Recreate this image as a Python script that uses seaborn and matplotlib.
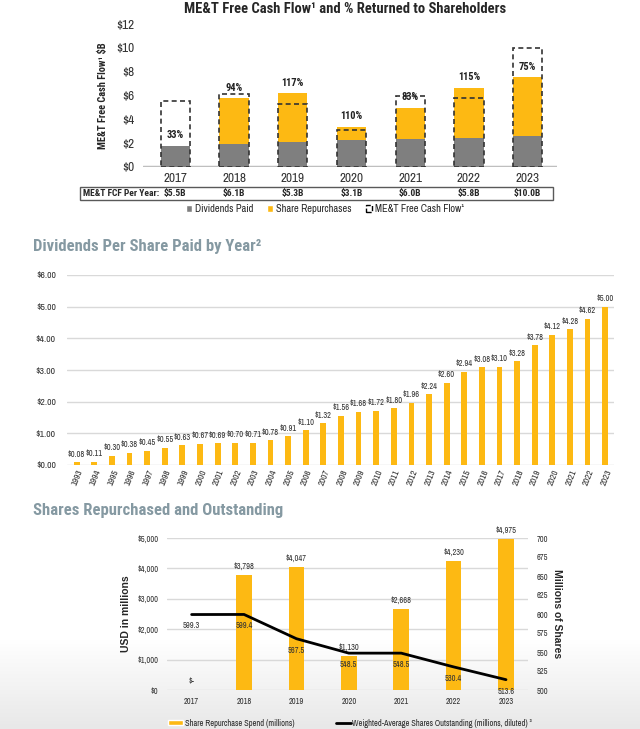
import numpy as np
import pandas as pd
import matplotlib
matplotlib.use("Agg")
import matplotlib.pyplot as plt
import matplotlib.transforms as mtrans
from matplotlib.patches import Patch, Rectangle
from matplotlib.lines import Line2D
import seaborn as sns

# ---------------- data ----------------
fcf_years = ["2017", "2018", "2019", "2020", "2021", "2022", "2023"]
dividends_paid_b = [1.80, 1.95, 2.13, 2.24, 2.31, 2.44, 2.56]
share_repurchases_b = [0.0, 3.80, 4.05, 1.13, 2.67, 4.23, 4.975]
fcf_b = [5.5, 6.1, 5.3, 3.1, 6.0, 5.8, 10.0]
pct_returned = ["33%", "94%", "117%", "110%", "83%", "115%", "75%"]

dps_years = [str(y) for y in range(1993, 2024)]
dps_values = [0.08, 0.11, 0.30, 0.38, 0.45, 0.55, 0.63, 0.67, 0.69, 0.70, 0.71,
              0.78, 0.91, 1.10, 1.32, 1.56, 1.68, 1.72, 1.80, 1.96, 2.24, 2.60,
              2.94, 3.08, 3.10, 3.28, 3.78, 4.12, 4.28, 4.62, 5.00]

rep_years = ["2017", "2018", "2019", "2020", "2021", "2022", "2023"]
repurchase_spend_m = [0, 3798, 4047, 1130, 2668, 4230, 4975]
shares_outstanding_m = [599.3, 599.4, 567.5, 548.5, 548.5, 530.4, 513.6]

# ---------------- style ----------------
YELLOW = "#FDB913"
GREY = "#7F7F7F"
TITLE2 = "#8599A2"
sns.set_style("white")
FONT = ["Archivo Narrow", "PT Sans Narrow", "DejaVu Sans"]
BFONT = ["Roboto Condensed", "PT Sans Narrow", "DejaVu Sans"]
AFONT = ["Liberation Sans", "DejaVu Sans"]
plt.rcParams["font.family"] = FONT
plt.rcParams["axes.facecolor"] = "none"

W, H = 640, 729
fig = plt.figure(figsize=(6.4, 7.29), dpi=100)

def fx(px):
    return px / W

def fy(py):
    return 1 - py / H

# background gradient at bottom
bg = fig.add_axes([0, 0, 1, fy(640)], zorder=-10)
grad = np.linspace(0, 1, 100).reshape(-1, 1)
bg.imshow(grad, aspect="auto", cmap=matplotlib.colors.LinearSegmentedColormap.from_list(
    "g", ["#e8e8e8", "#ffffff"]), origin="lower", extent=[0, 1, 0, 1])
bg.axis("off")

# ================= Panel 1 =================
ax1 = fig.add_axes([fx(143), fy(167), fx(557) - fx(143), fy(24) - fy(167)])
totals = [d + r for d, r in zip(dividends_paid_b, share_repurchases_b)]
df1 = pd.DataFrame({"year": fcf_years, "total": totals,
                    "div": dividends_paid_b, "fcf": fcf_b})
sns.barplot(data=df1, x="year", y="total", color=YELLOW, width=0.5,
            errorbar=None, ax=ax1, saturation=1, linewidth=0)
sns.barplot(data=df1, x="year", y="div", color=GREY, width=0.5,
            errorbar=None, ax=ax1, saturation=1, linewidth=0)
sns.barplot(data=df1, x="year", y="fcf", color="#333333", fill=False, width=0.5,
            errorbar=None, ax=ax1, linewidth=1.2, linestyle=(0, (3, 2)))
for i, (t, p) in enumerate(zip(totals, pct_returned)):
    ax1.annotate(p, (i, t), xytext=(0, 4), textcoords="offset points",
                 ha="center", va="bottom", fontsize=7.5, fontweight="bold",
                 color="#222222", family=BFONT)
ax1.set_ylim(0, 12)
ax1.set_xlim(-0.55, 6.5)
ax1.set_yticks(range(0, 13, 2))
ax1.set_yticklabels([f"${v}" for v in range(0, 13, 2)], fontsize=9.5, color="#333333")
ax1.tick_params(axis="x", labelsize=9.5, colors="#333333", length=0, pad=4)
ax1.tick_params(axis="y", length=0, pad=6)
ax1.set_xlabel("")
ax1.set_ylabel("ME&T Free Cash Flow¹ $B", fontsize=7.5, fontweight="bold", labelpad=6,
               family=BFONT)
for s in ax1.spines.values():
    s.set_visible(False)
ax1.axhline(0, color="#BFBFBF", lw=2.5, zorder=0.5)

# table row
fig.add_artist(Rectangle((fx(80), fy(200)), fx(553) - fx(80), fy(187) - fy(200),
                         transform=fig.transFigure, fill=False, edgecolor="#595959", lw=1))
fig.text(fx(83), fy(193.5), "ME&T FCF Per Year:", fontsize=6.8, fontweight="bold",
         ha="left", va="center", family=BFONT)
bt = mtrans.blended_transform_factory(ax1.transData, fig.transFigure)
for i, v in enumerate(fcf_b):
    fig.text(i, fy(193.5), f"${v:.1f}B", transform=bt, fontsize=6.8,
             fontweight="bold", ha="center", va="center", family=BFONT)

h1 = [Patch(facecolor=GREY), Patch(facecolor=YELLOW),
      Patch(facecolor="white", edgecolor="black", linestyle="--")]
fig.legend(h1, ["Dividends Paid", "Share Repurchases", "ME&T Free Cash Flow¹"],
           loc="center", bbox_to_anchor=(fx(325), fy(209)), ncol=3, frameon=False,
           fontsize=7.5, handlelength=0.6, handleheight=0.6, handletextpad=0.3,
           columnspacing=1.3)

# title
fig.text(fx(345), fy(9), "ME&T Free Cash Flow¹ and % Returned to Shareholders",
         fontsize=10.5, fontweight="bold", ha="center", va="center", family=BFONT)

# ================= Panel 2 =================
fig.text(fx(33), fy(247), "Dividends Per Share Paid by Year²", fontsize=12,
         fontweight="bold", color=TITLE2, ha="left", va="center", family=BFONT)
ax2 = fig.add_axes([fx(67), fy(465), fx(614) - fx(67), fy(275) - fy(465)])
df2 = pd.DataFrame({"year": dps_years, "dps": dps_values})
sns.barplot(data=df2, x="year", y="dps", color=YELLOW, width=0.33, errorbar=None,
            ax=ax2, saturation=1, linewidth=0, zorder=3)
for i, v in enumerate(dps_values):
    ax2.annotate(f"${v:.2f}", (i, v), xytext=(0, 2.5), textcoords="offset points",
                 ha="center", va="bottom", fontsize=6, color="#333333")
ax2.set_ylim(0, 6)
ax2.set_xlim(-0.55, 30.5)
ax2.set_yticks(range(0, 7))
ax2.set_yticklabels([f"${v:.2f}" for v in range(0, 7)], fontsize=7, color="#333333")
ax2.yaxis.grid(True, color="#D9D9D9", lw=1)
ax2.set_axisbelow(True)
ax2.tick_params(axis="y", length=0, pad=8)
ax2.tick_params(axis="x", length=0, pad=2)
plt.setp(ax2.get_xticklabels(), rotation=68, ha="right", rotation_mode="anchor",
         fontsize=6.5, color="#333333")
ax2.set_xlabel("")
ax2.set_ylabel("")
for s in ax2.spines.values():
    s.set_visible(False)

# ================= Panel 3 =================
fig.text(fx(33), fy(511), "Shares Repurchased and Outstanding", fontsize=12,
         fontweight="bold", color=TITLE2, ha="left", va="center", family=BFONT)
ax3 = fig.add_axes([fx(167), fy(690), fx(528) - fx(167), fy(538) - fy(690)])
df3 = pd.DataFrame({"year": rep_years, "spend": repurchase_spend_m,
                    "shares": shares_outstanding_m})
sns.barplot(data=df3, x="year", y="spend", color=YELLOW, width=0.3, errorbar=None,
            ax=ax3, saturation=1, linewidth=0, zorder=3)
for i, v in enumerate(repurchase_spend_m):
    lab = f"${v:,.0f}" if v else "$-"
    ax3.annotate(lab, (i, v), xytext=(0, 3), textcoords="offset points",
                 ha="center", va="bottom", fontsize=6, color="#333333")
ax3.set_ylim(0, 5000)
ax3.set_xlim(-0.47, 6.42)
ax3.set_yticks(range(0, 5001, 1000))
ax3.set_yticklabels(["$0"] + [f"${v:,}" for v in range(1000, 5001, 1000)],
                    fontsize=6, color="#333333")
ax3.yaxis.grid(True, color="#D9D9D9", lw=1)
ax3.set_axisbelow(True)
ax3.tick_params(axis="both", length=0)
ax3.tick_params(axis="y", pad=6)
ax3.tick_params(axis="x", labelsize=6, colors="#333333", pad=5)
ax3.set_xlabel("")
ax3.set_ylabel("USD in millions", fontsize=7.5, fontweight="bold", labelpad=5,
               family=AFONT)
for s in ax3.spines.values():
    s.set_visible(False)

ax3b = ax3.twinx()
sns.lineplot(data=df3, x="year", y="shares", color="black", lw=2, ax=ax3b,
             sort=False)
for i, v in enumerate(shares_outstanding_m):
    ax3b.annotate(f"{v:.1f}", (i, v), xytext=(0, -5), textcoords="offset points",
                  ha="center", va="top", fontsize=6, color="#333333")
ax3b.set_ylim(500, 700)
ax3b.set_yticks(range(500, 701, 25))
ax3b.set_yticklabels([str(v) for v in range(500, 701, 25)], fontsize=6, color="#333333")
ax3b.tick_params(axis="y", length=0, pad=6)
ax3b.set_xlabel("")
ax3b.set_ylabel("Millions of Shares", fontsize=7.5, fontweight="bold", rotation=270,
                labelpad=10, family=AFONT)
for s in ax3b.spines.values():
    s.set_visible(False)
ax3b.set_xlim(-0.47, 6.42)

h3 = [Patch(facecolor=YELLOW), Line2D([0], [0], color="black", lw=2)]
fig.legend(h3, ["Share Repurchase Spend (millions)",
                "Weighted-Average Shares Outstanding (millions, diluted) ³"],
           loc="center", bbox_to_anchor=(fx(350), fy(723)), ncol=2, frameon=False,
           fontsize=6, handlelength=1.8, handleheight=0.5, handletextpad=0.2,
           columnspacing=5)

fig.savefig("out.png", dpi=100)
